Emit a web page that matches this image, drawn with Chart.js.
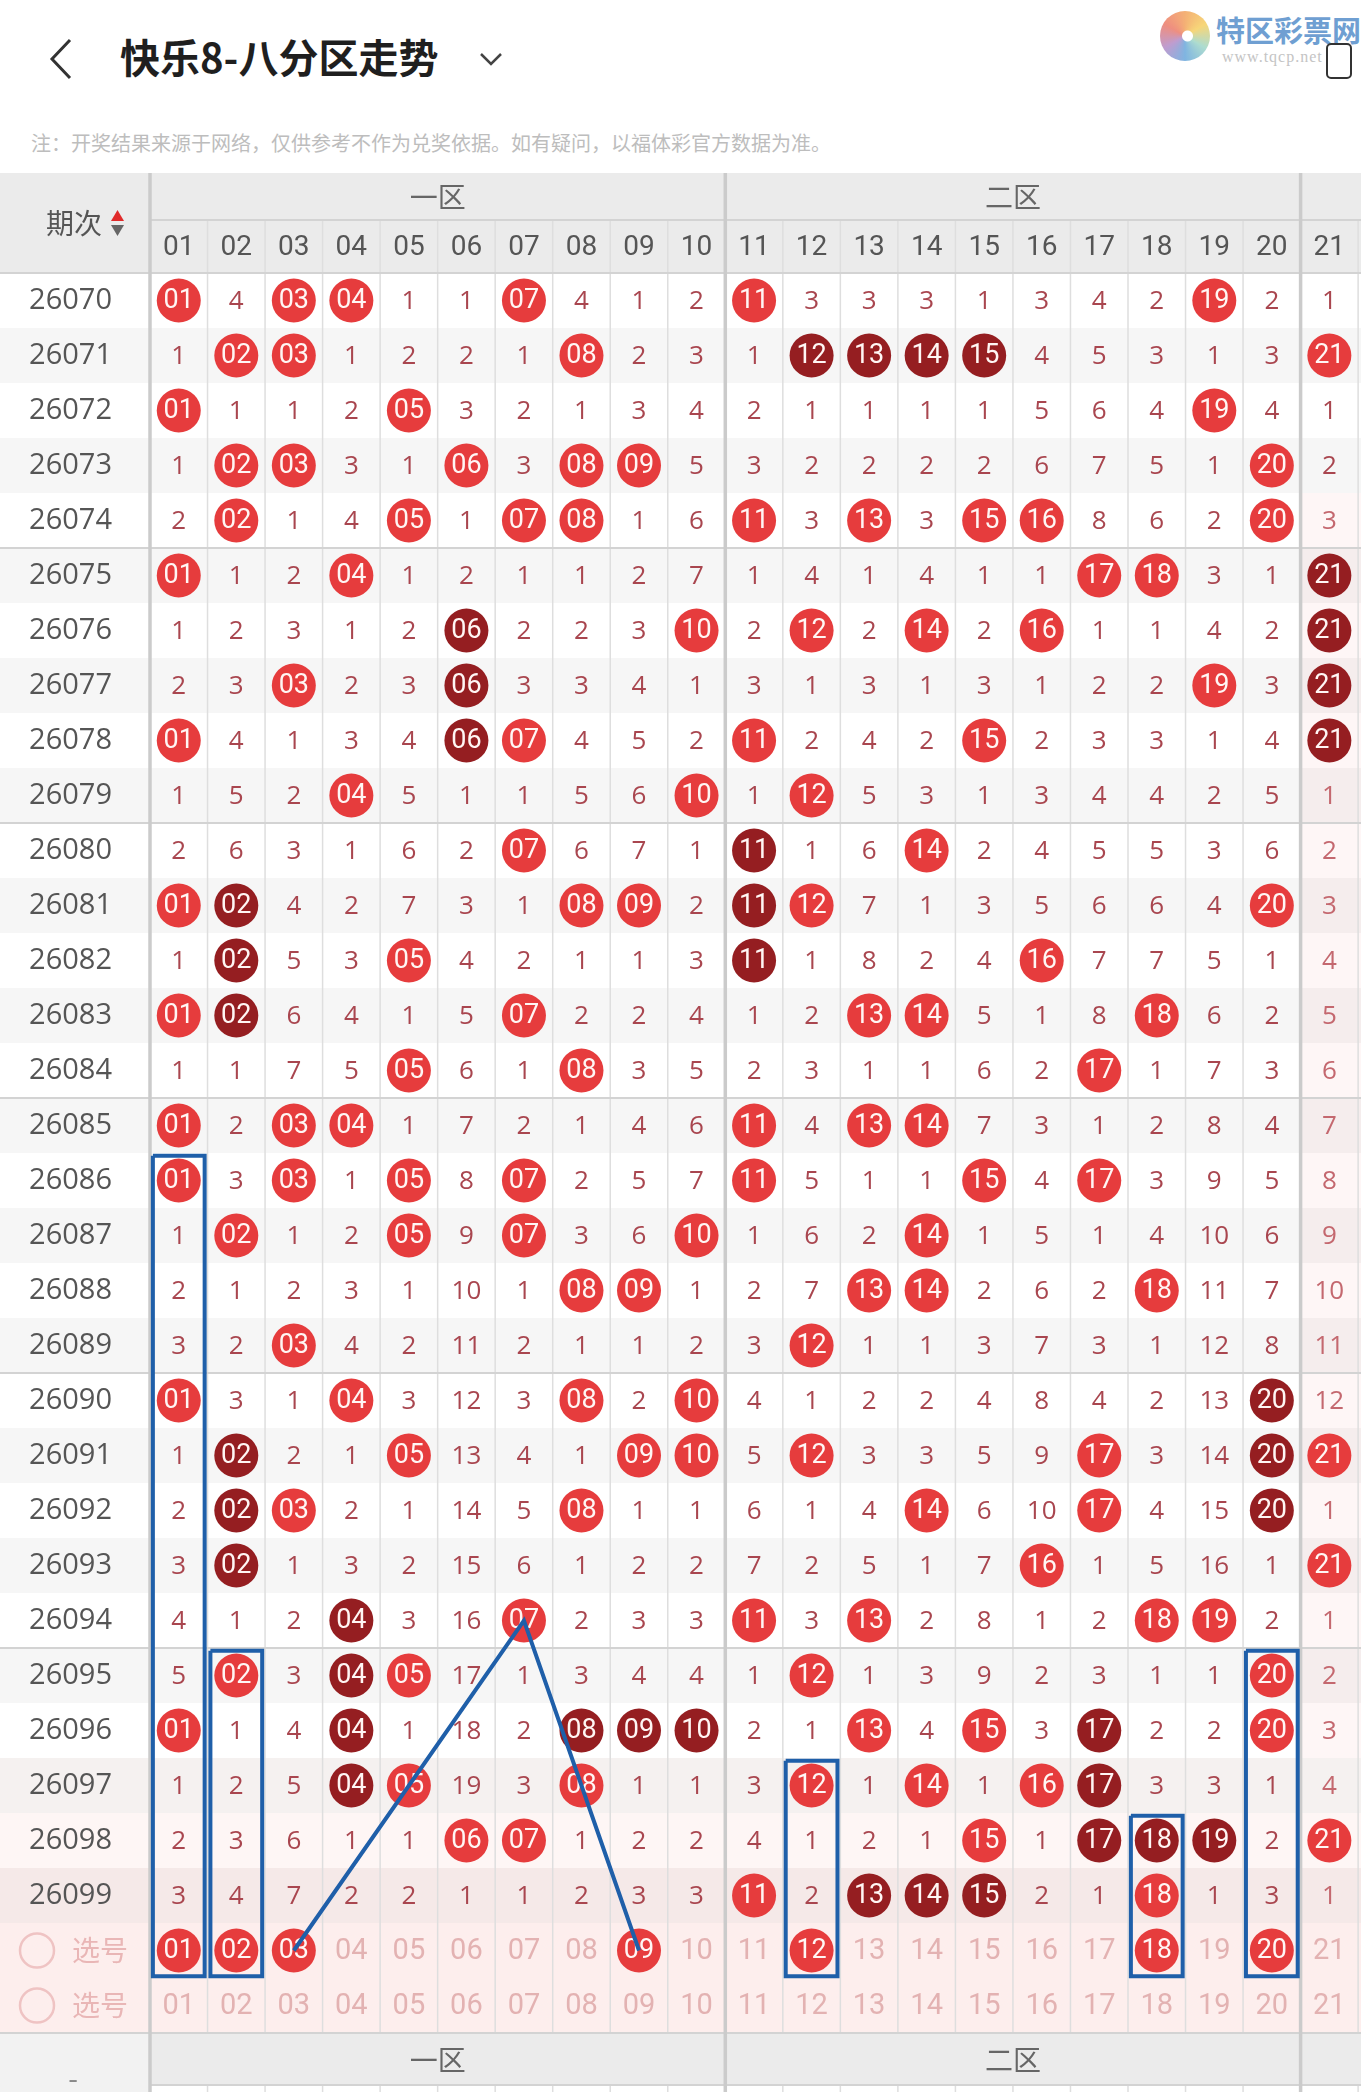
<!DOCTYPE html>
<html lang="zh-CN">
<head>
<meta charset="utf-8">
<title>快乐8-八分区走势</title>
<script src="https://cdn.jsdelivr.net/npm/chart.js@4.4.1/dist/chart.umd.min.js"></script>
<style>
html, body { margin: 0; padding: 0; background: #fff; }
body { position: relative; width: 1361px; height: 2092px; overflow: hidden; font-family: "Noto Sans CJK SC", "Noto Sans", sans-serif; }
.back { position: absolute; left: 46px; top: 37px; }
h1 { position: absolute; left: 120px; top: 27px; margin: 0; font-size: 40px; line-height: 58px; font-weight: 700; color: #1f1f1f; }
.drop { position: absolute; left: 478px; top: 51px; }
.note { position: absolute; left: 31px; top: 128px; font-size: 20px; line-height: 30px; color: #bdbdbd; }
.logo-mark { position: absolute; left: 1160px; top: 11px; width: 50px; height: 50px; border-radius: 50%;
  background: radial-gradient(circle at 55% 50%, #fff 0 5px, transparent 6px),
              conic-gradient(#f3a35e, #f6d062, #9fd6c8, #6aa8dc, #b48cc8, #ec7b6a, #f3a35e); opacity: .85; }
.logo-name { position: absolute; left: 1216px; top: 8px; font-size: 29px; line-height: 42px; font-weight: 700; color: #6f9fd2; white-space: nowrap; }
.logo-url { position: absolute; left: 1222px; top: 48px; font: 16px "Liberation Serif", serif; color: #c4c4c4; letter-spacing: 1px; white-space: nowrap; }
.phone { position: absolute; left: 1326px; top: 43px; width: 22px; height: 32px; border: 2.5px solid #333; border-radius: 5px; background: #fff; }
#box { position: absolute; left: 0; top: 173px; width: 1361px; height: 1919px; }
</style>
</head>
<body>
<svg class="back" width="30" height="44" viewBox="0 0 30 44"><polyline points="24,3 6,22 24,41" fill="none" stroke="#333" stroke-width="3"/></svg>
<h1>快乐8-八分区走势</h1>
<svg class="drop" width="26" height="16" viewBox="0 0 26 16"><polyline points="3,3 13,13 23,3" fill="none" stroke="#444" stroke-width="2.5"/></svg>
<div class="note">注：开奖结果来源于网络，仅供参考不作为兑奖依据。如有疑问，以福体彩官方数据为准。</div>
<div class="logo-mark"></div>
<div class="logo-name">特区彩票网</div>
<div class="logo-url">www.tqcp.net</div>
<div class="phone"></div>
<div id="box"><canvas id="chart" width="1361" height="1919"></canvas></div>

<script>
const periods = ['26070', '26071', '26072', '26073', '26074', '26075', '26076', '26077', '26078', '26079',
  '26080', '26081', '26082', '26083', '26084', '26085', '26086', '26087', '26088', '26089',
  '26090', '26091', '26092', '26093', '26094', '26095', '26096', '26097', '26098', '26099'];
const numbers = ['01', '02', '03', '04', '05', '06', '07', '08', '09', '10',
  '11', '12', '13', '14', '15', '16', '17', '18', '19', '20', '21'];
const zones = ['一区', '二区'];

// one line per period, one entry per number:
// H = drawn, D = drawn as part of a run of 3+ (dark ball), digits = current miss count
const trend = [
  'H 4 H H 1 1 H 4 1 2 H 3 3 3 1 3 4 2 H 2 1',
  '1 H H 1 2 2 1 H 2 3 1 D D D D 4 5 3 1 3 H',
  'H 1 1 2 H 3 2 1 3 4 2 1 1 1 1 5 6 4 H 4 1',
  '1 H H 3 1 H 3 H H 5 3 2 2 2 2 6 7 5 1 H 2',
  '2 H 1 4 H 1 H H 1 6 H 3 H 3 H H 8 6 2 H 3',
  'H 1 2 H 1 2 1 1 2 7 1 4 1 4 1 1 H H 3 1 D',
  '1 2 3 1 2 D 2 2 3 H 2 H 2 H 2 H 1 1 4 2 D',
  '2 3 H 2 3 D 3 3 4 1 3 1 3 1 3 1 2 2 H 3 D',
  'H 4 1 3 4 D H 4 5 2 H 2 4 2 H 2 3 3 1 4 D',
  '1 5 2 H 5 1 1 5 6 H 1 H 5 3 1 3 4 4 2 5 1',
  '2 6 3 1 6 2 H 6 7 1 D 1 6 H 2 4 5 5 3 6 2',
  'H D 4 2 7 3 1 H H 2 D H 7 1 3 5 6 6 4 H 3',
  '1 D 5 3 H 4 2 1 1 3 D 1 8 2 4 H 7 7 5 1 4',
  'H D 6 4 1 5 H 2 2 4 1 2 H H 5 1 8 H 6 2 5',
  '1 1 7 5 H 6 1 H 3 5 2 3 1 1 6 2 H 1 7 3 6',
  'H 2 H H 1 7 2 1 4 6 H 4 H H 7 3 1 2 8 4 7',
  'H 3 H 1 H 8 H 2 5 7 H 5 1 1 H 4 H 3 9 5 8',
  '1 H 1 2 H 9 H 3 6 H 1 6 2 H 1 5 1 4 10 6 9',
  '2 1 2 3 1 10 1 H H 1 2 7 H H 2 6 2 H 11 7 10',
  '3 2 H 4 2 11 2 1 1 2 3 H 1 1 3 7 3 1 12 8 11',
  'H 3 1 H 3 12 3 H 2 H 4 1 2 2 4 8 4 2 13 D 12',
  '1 D 2 1 H 13 4 1 H H 5 H 3 3 5 9 H 3 14 D H',
  '2 D H 2 1 14 5 H 1 1 6 1 4 H 6 10 H 4 15 D 1',
  '3 D 1 3 2 15 6 1 2 2 7 2 5 1 7 H 1 5 16 1 H',
  '4 1 2 D 3 16 H 2 3 3 H 3 H 2 8 1 2 H H 2 1',
  '5 H 3 D H 17 1 3 4 4 1 H 1 3 9 2 3 1 1 H 2',
  'H 1 4 D 1 18 2 D D D 2 1 H 4 H 3 D 2 2 H 3',
  '1 2 5 D H 19 3 H 1 1 3 H 1 H 1 H D 3 3 1 4',
  '2 3 6 1 1 H H 1 2 2 4 1 2 1 H 1 D D D 2 H',
  '3 4 7 2 2 1 1 2 3 3 H 2 D D D 2 1 H 1 3 1'
];

// balls chosen in the first 选号 row
const picked = ['01', '02', '03', '09', '12', '18', '20'];
// hand-drawn blue marks: boxes [number, first period] down to the 选号 row, and a zigzag
const boxedRuns = [['01', '26086'], ['02', '26095'], ['12', '26097'], ['18', '26098'], ['20', '26095']];
const zigzag = [['03', '选号'], ['07', '26094'], ['09', '选号']];

const PICK_ROW = periods.length + 1;
const BLANK_ROW = periods.length + 2;
const ROWS = periods.length + 2;
const colOf = n => numbers.indexOf(n) + 1;
const rowOf = p => p === '选号' ? PICK_ROW : periods.indexOf(p) + 1;

const RED = '#e63c3d';
const DARK = '#951e21';
const BLUE = '#1f5fa9';
const MISS = '#a9464f';
const NUM_FONT = 'Roboto, "Noto Sans", sans-serif';
const CJK_FONT = '"Noto Sans CJK SC", "Noto Sans", sans-serif';

const hits = [], runs = [], misses = [], balls = [], blanks = [];
trend.forEach((line, i) => line.split(' ').forEach((v, j) => {
  const p = {x: j + 1, y: i + 1};
  if (v === 'H') hits.push({...p, t: numbers[j]});
  else if (v === 'D') runs.push({...p, t: numbers[j]});
  else misses.push({...p, t: v});
}));
numbers.forEach((n, j) => {
  (picked.includes(n) ? balls : blanks).push({x: j + 1, y: PICK_ROW, t: n});
  blanks.push({x: j + 1, y: BLANK_ROW, t: n});
});

const blueLine = data => ({
  data, showLine: true, pointRadius: 0, borderColor: BLUE, borderWidth: 4,
  borderJoinStyle: 'miter', tension: 0, fill: false
});
const boxSets = boxedRuns.map(([n, p]) => {
  const c = colOf(n), t = rowOf(p) - 0.45, b = PICK_ROW + 0.47;
  return blueLine([{x: c - 0.45, y: t}, {x: c + 0.45, y: t}, {x: c + 0.45, y: b},
                   {x: c - 0.45, y: b}, {x: c - 0.45, y: t}]);
});
const zigSet = blueLine(zigzag.map(([n, p]) => ({x: colOf(n), y: rowOf(p)})));

const ball = (data, color) => ({
  data, showLine: false, pointRadius: 22, pointHoverRadius: 22,
  pointBackgroundColor: color, pointBorderWidth: 0,
  textColor: '#fff6f4', textFont: '27px ' + NUM_FONT
});
const plain = (data, color, font) => ({
  data, showLine: false, pointRadius: 0, pointHoverRadius: 0, textColor: color, textFont: font
});

// numbers written on top of each point, right after its dataset is drawn
const cellText = {
  id: 'cellText',
  afterDatasetDraw(chart, args) {
    const ds = chart.data.datasets[args.index];
    if (!ds.textFont) return;
    const ctx = chart.ctx;
    ctx.save();
    ctx.font = ds.textFont;
    ctx.textAlign = 'center';
    ctx.textBaseline = 'middle';
    args.meta.data.forEach((el, i) => {
      const d = ds.data[i];
      ctx.fillStyle = typeof ds.textColor === 'function' ? ds.textColor(d) : ds.textColor;
      ctx.fillText(d.t, el.x, el.y + 1);
    });
    ctx.restore();
  }
};

const line = (ctx, x1, y1, x2, y2) => { ctx.beginPath(); ctx.moveTo(x1, y1); ctx.lineTo(x2, y2); ctx.stroke(); };

// table look: stripes, header/footer bands, cell borders, header texts
const table = {
  id: 'table',
  beforeDraw(chart) {
    const {ctx, chartArea: a, scales: {x, y}, width: W, height: H} = chart;
    ctx.save();
    ctx.fillStyle = '#fff';
    ctx.fillRect(0, 0, W, H);
    ctx.fillStyle = '#ebebeb';
    ctx.fillRect(0, 0, W, a.top);
    const c21 = x.getPixelForValue(20.5);
    for (let r = 1; r <= ROWS; r++) {
      const t = y.getPixelForValue(r - 0.5), b = y.getPixelForValue(r + 0.5);
      if (r % 2 === 0 && r <= periods.length) { ctx.fillStyle = '#f6f6f6'; ctx.fillRect(0, t, W, b - t); }
      const tint = r >= PICK_ROW ? 0.16 : r >= 28 ? 0.05 + (r - 28) * 0.04 : 0;
      if (tint) { ctx.fillStyle = `rgba(240,150,140,${tint})`; ctx.fillRect(0, t, W, b - t); }
      if (r >= 5 && r < 28) { ctx.fillStyle = 'rgba(240,150,150,0.09)'; ctx.fillRect(c21, t, W - c21, b - t); }
    }
    ctx.fillStyle = '#ebebeb';
    ctx.fillRect(a.left, a.bottom, W - a.left, 52);
    ctx.fillStyle = '#f2f2f2';
    ctx.fillRect(0, a.bottom, a.left, H - a.bottom);
    ctx.restore();
  },
  beforeDatasetsDraw(chart) {
    const {ctx, chartArea: a, scales: {x, y}, width: W, height: H} = chart;
    const zoneRow = 47;
    ctx.save();
    ctx.lineWidth = 1.5;
    ctx.strokeStyle = '#dedede';
    for (let c = 1; c < numbers.length + 1; c++) {
      if (c % 10 === 0) continue;
      const px = x.getPixelForValue(c + 0.5);
      line(ctx, px, zoneRow, px, a.bottom);
      line(ctx, px, a.bottom + 52, px, H);
    }
    ctx.strokeStyle = '#d3d3d3';
    ctx.lineWidth = 2;
    for (let r = 5; r < periods.length; r += 5) {
      const py = y.getPixelForValue(r + 0.5);
      line(ctx, 0, py, W, py);
    }
    line(ctx, a.left, zoneRow, W, zoneRow);
    line(ctx, 0, a.top, W, a.top);
    line(ctx, 0, a.bottom, W, a.bottom);
    line(ctx, a.left, a.bottom + 52, W, a.bottom + 52);
    ctx.strokeStyle = '#cbcbcb';
    ctx.lineWidth = 3.5;
    [0.5, 10.5, 20.5].forEach(v => {
      const px = x.getPixelForValue(v);
      line(ctx, px, 0, px, H);
    });
    ctx.restore();
  },
  afterDraw(chart) {
    const {ctx, chartArea: a, scales: {x, y}, height: H} = chart;
    ctx.save();
    ctx.textAlign = 'center';
    ctx.textBaseline = 'middle';
    ctx.font = '28px ' + CJK_FONT;
    ctx.fillStyle = '#666';
    zones.forEach((z, i) => {
      const cx = x.getPixelForValue(i * 10 + 5.5);
      ctx.fillText(z, cx, 24);
      ctx.fillText(z, cx, a.bottom + 27);
    });
    ctx.fillStyle = '#555';
    ctx.fillText('期次', 74, 50);
    ctx.fillStyle = '#e02a2a';
    ctx.beginPath(); ctx.moveTo(111, 48); ctx.lineTo(124, 48); ctx.lineTo(117.5, 37); ctx.fill();
    ctx.fillStyle = '#666';
    ctx.beginPath(); ctx.moveTo(111, 52); ctx.lineTo(124, 52); ctx.lineTo(117.5, 63); ctx.fill();
    [PICK_ROW, BLANK_ROW].forEach(r => {
      const py = y.getPixelForValue(r);
      ctx.strokeStyle = '#efc3c3';
      ctx.lineWidth = 2.5;
      ctx.beginPath(); ctx.arc(37, py, 17, 0, Math.PI * 2); ctx.stroke();
      ctx.fillStyle = '#e9b6b6';
      ctx.fillText('选号', 100, py);
    });
    ctx.fillStyle = '#888';
    ctx.fillText('-', 73, H - 14);
    ctx.restore();
  }
};

new Chart(document.getElementById('chart'), {
  type: 'scatter',
  data: {
    datasets: [
      zigSet,
      ...boxSets,
      ball(hits, RED),
      ball(runs, DARK),
      ball(balls, RED),
      plain(misses, d => d.x === 21 && d.y >= 5 ? '#c4686f' : MISS, '26px "Open Sans", ' + NUM_FONT),
      plain(blanks, '#e3b2b2', '29px ' + NUM_FONT)
    ]
  },
  options: {
    responsive: false,
    devicePixelRatio: 1,
    animation: false,
    events: [],
    // balls on the edge column may be cut, as in the app, so no auto padding
    layout: {autoPadding: false, padding: {bottom: 59}},
    scales: {
      x: {
        type: 'linear',
        position: 'top',
        min: 0.5,
        max: 21.55,
        afterFit: s => { s.height = 100; },
        afterBuildTicks: s => { s.ticks = numbers.map((n, i) => ({value: i + 1})); },
        grid: {display: false},
        border: {display: false},
        ticks: {
          autoSkip: false,
          maxRotation: 0,
          padding: 0,
          color: '#555',
          font: {family: NUM_FONT, size: 28},
          callback: v => numbers[v - 1]
        }
      },
      y: {
        type: 'linear',
        reverse: true,
        min: 0.5,
        max: ROWS + 0.5,
        afterFit: s => { s.width = 150; },
        afterBuildTicks: s => { s.ticks = Array.from({length: ROWS}, (_, i) => ({value: i + 1})); },
        grid: {display: false},
        border: {display: false},
        ticks: {
          autoSkip: false,
          padding: 30,
          color: '#555',
          font: {family: '"Open Sans", ' + NUM_FONT, size: 29},
          callback: v => v <= periods.length ? periods[v - 1] : ''
        }
      }
    },
    plugins: {
      legend: {display: false},
      tooltip: {enabled: false}
    }
  },
  plugins: [table, cellText]
});
</script>
</body>
</html>
